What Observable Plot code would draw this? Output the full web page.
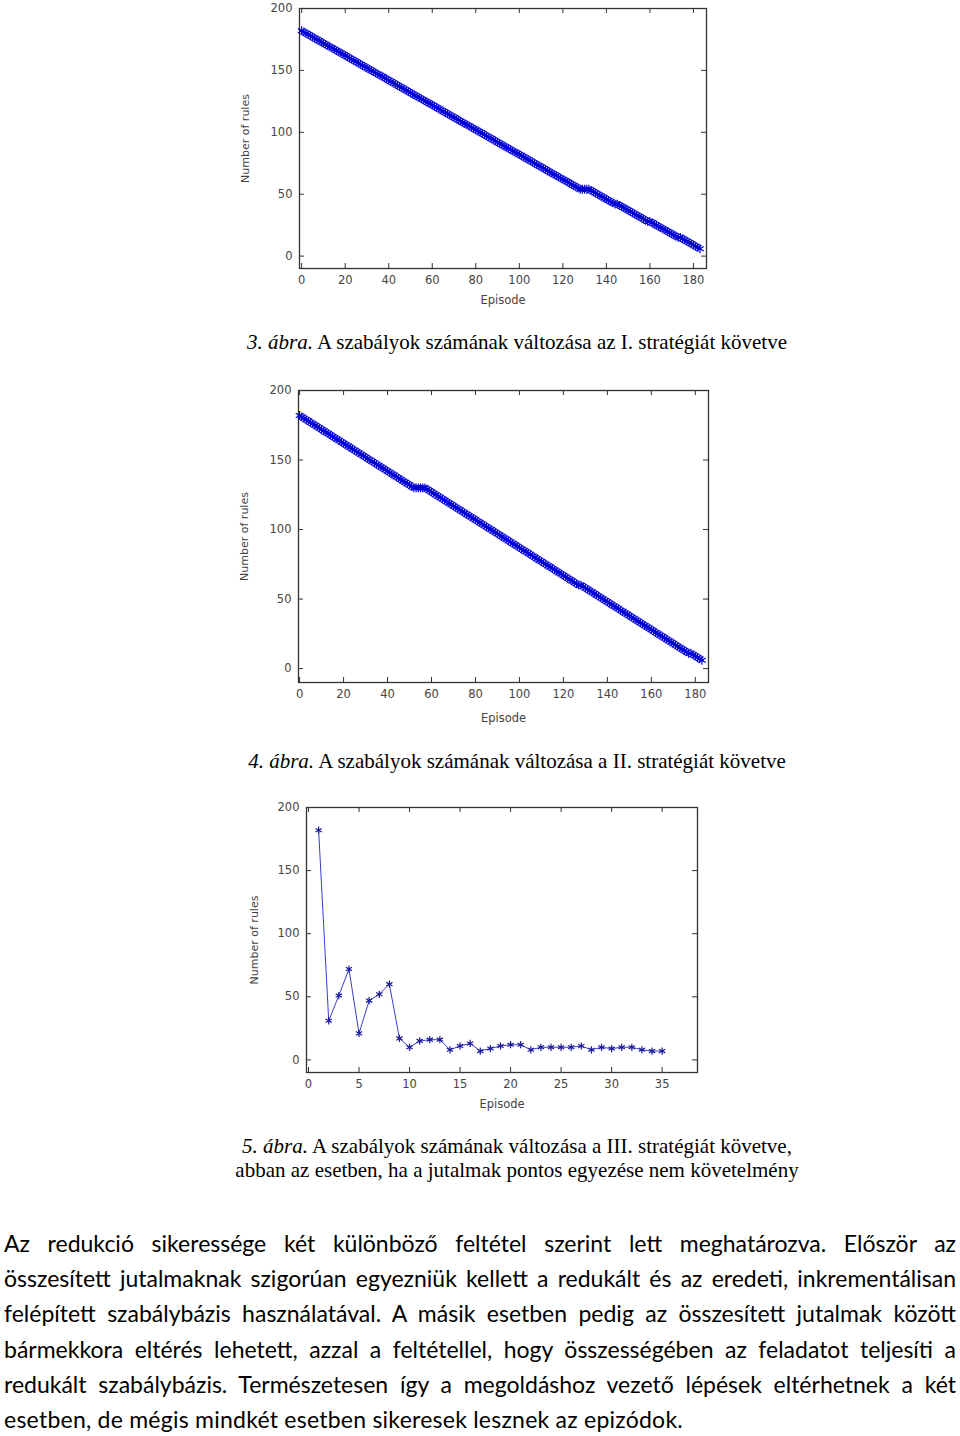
<!DOCTYPE html>
<html><head><meta charset="utf-8">
<script src="https://cdn.jsdelivr.net/npm/d3@7"></script>
<script src="https://cdn.jsdelivr.net/npm/@observablehq/plot@0.6"></script>
<style>
body{margin:0;background:#fff;}
#page{position:relative;width:960px;height:1436px;overflow:hidden;background:#fff;}
.chart{position:absolute;left:0;}
.chart svg{overflow:visible;}
.cap{position:absolute;left:0;width:1034px;text-align:center;font-family:"Liberation Serif","Times New Roman",serif;font-size:21px;line-height:24px;color:#000;}
.cap i{font-style:italic;}
#para{position:absolute;left:4px;top:1226px;width:952px;font-family:Lato,"Open Sans",sans-serif;font-size:23px;line-height:35.2px;color:#000;}
#para .ln{display:block;white-space:nowrap;}
#para .ln span{display:inline-block;white-space:pre;}
</style>
</head><body>
<div id="page">
  <div class="chart" id="c1" style="top:0px"></div>
  <div class="cap" style="top:330px"><i>3. ábra.</i> A szabályok számának változása az I. stratégiát követve</div>
  <div class="chart" id="c2" style="top:380px"></div>
  <div class="cap" style="top:749px"><i>4. ábra.</i> A szabályok számának változása a II. stratégiát követve</div>
  <div class="chart" id="c3" style="top:795px"></div>
  <div class="cap" style="top:1134px"><i>5. ábra.</i> A szabályok számának változása a III. stratégiát követve,<br>abban az esetben, ha a jutalmak pontos egyezése nem követelmény</div>
  <div id="para"></div>
</div>
<script>
// ---- Data ----
// Figure 3: number of rules per episode (episode = index, 0..183)
const rules1 = [182,181,180,179,178,177,176,175,174,173,172,171,170,169,168,167,166,165,164,163,162,161,160,159,158,157,156,155,154,153,152,151,150,149,148,147,146,145,144,143,142,141,140,139,138,137,136,135,134,133,132,131,130,129,128,127,126,125,124,123,122,121,120,119,118,117,116,115,114,113,112,111,110,109,108,107,106,105,104,103,102,101,100,99,98,97,96,95,94,93,92,91,90,89,88,87,86,85,84,83,82,81,80,79,78,77,76,75,74,73,72,71,70,69,68,67,66,65,64,63,62,61,60,59,58,57,56,55,54,
54,54,54,54,
53,52,51,50,49,48,47,46,45,44,43,42,42,
41,40,39,38,37,36,35,34,33,32,31,30,29,28,28,
27,26,25,24,23,22,21,20,19,18,17,16,15,15,
14,13,12,11,10,9,8,7,6];
// Figure 4: number of rules per episode (episode = index, 0..183)
const rules2 = [182,181,180,179,178,177,176,175,174,173,172,171,170,169,168,167,166,165,164,163,162,161,160,159,158,157,156,155,154,153,152,151,150,149,148,147,146,145,144,143,142,141,140,139,138,137,136,135,134,133,132,131,130,
130,130,130,130,130,
129,128,127,126,125,124,123,122,121,120,119,118,117,116,115,114,113,112,111,110,109,108,107,106,105,104,103,102,101,100,99,98,97,96,95,94,93,92,91,90,89,88,87,86,85,84,83,82,81,80,79,78,77,76,75,74,73,72,71,70,69,68,67,66,65,64,63,62,61,60,60,
59,58,57,56,55,54,53,52,51,50,49,48,47,46,45,44,43,42,41,40,39,38,37,36,35,34,33,32,31,30,29,28,27,26,25,24,23,22,21,20,19,18,17,16,15,14,13,12,11,11,
10,9,8,7,6];
// Figure 5
const episodes3 = [1,2,3,4,5,6,7,8,9,10,11,12,13,14,15,16,17,18,19,20,21,22,23,24,25,26,27,28,29,30,31,32,33,34,35];
const rules3 = [182,31,51,72,21,47,52,60,17,10,15,16,16,8,11,13,7,9,11,12,12,8,10,10,10,10,11,8,10,9,10,10,8,7,7];

const xTicksLong = [0,20,40,60,80,100,120,140,160,180];
const xTicksShort = [0,5,10,15,20,25,30,35];
const yTicks = [0,50,100,150,200];
const xLabel = "Episode";
const yLabel = "Number of rules";

const paraLines = [
  "Az redukció sikeressége két különböző feltétel szerint lett meghatározva. Először az",
  "összesített jutalmaknak szigorúan egyezniük kellett a redukált és az eredeti, inkrementálisan",
  "felépített szabálybázis használatával. A másik esetben pedig az összesített jutalmak között",
  "bármekkora eltérés lehetett, azzal a feltétellel, hogy összességében az feladatot teljesíti a",
  "redukált szabálybázis. Természetesen így a megoldáshoz vezető lépések eltérhetnek a két",
  "esetben, de mégis mindkét esetben sikeresek lesznek az epizódok."
];

// ---- Chart builder ----
function chart(opts) {
  const {data, xDomain, xTicks, height, mt, mb, ml, mr, lineColor, lineWidth, dotColor, dotR, ylabOff} = opts;
  const plotH = height - mt - mb;
  const plotW = 960 - ml - mr;
  const axisColor = "#333";
  return Plot.plot({
    width: 960, height,
    marginTop: mt, marginBottom: mb, marginLeft: ml, marginRight: mr,
    style: {fontFamily: "'DejaVu Sans', sans-serif", fontSize: "11.5px", color: "#444", background: "transparent"},
    x: {domain: xDomain},
    y: {domain: [-10, 200]},
    marks: [
      Plot.frame({stroke: axisColor, strokeWidth: 1.3}),
      Plot.tickX(xTicks, {x: d => d, insetTop: plotH - 5, stroke: axisColor}),
      Plot.tickX(xTicks, {x: d => d, insetBottom: plotH - 5, stroke: axisColor}),
      Plot.tickY(yTicks, {y: d => d, insetRight: plotW - 5, stroke: axisColor}),
      Plot.tickY(yTicks, {y: d => d, insetLeft: plotW - 5, stroke: axisColor}),
      Plot.line(data, {x: "episode", y: "rules", stroke: lineColor, strokeWidth: lineWidth}),
      Plot.dot(data, {x: "episode", y: "rules", symbol: "asterisk", r: dotR, stroke: dotColor, strokeWidth: 1.2}),
      Plot.axisX({ticks: xTicks, tickSize: 0, tickPadding: 7, label: null, fill: "#444"}),
      Plot.axisY({ticks: yTicks, tickSize: 0, tickPadding: 7, label: null, fill: "#444"}),
      Plot.text([xLabel], {text: d => d, frameAnchor: "bottom", dy: opts.xlabOff, fill: "#444", fontSize: 11.5}),
      Plot.text([yLabel], {text: d => d, frameAnchor: "left", textAnchor: "middle", dx: -ylabOff, rotate: -90, fill: "#444", fontSize: 11})
    ]
  });
}

const d1 = rules1.map((v, i) => ({episode: i, rules: v}));
const d2 = rules2.map((v, i) => ({episode: i, rules: v}));
const d3 = episodes3.map((e, i) => ({episode: e, rules: rules3[i]}));

document.getElementById("c1").append(chart({data: d1, xDomain: [-1, 186], xTicks: xTicksLong, height: 312, mt: 8, mb: 44, ml: 299, mr: 254,
  lineColor: "#0808c8", lineWidth: 2.6, dotColor: "#0000d8", dotR: 4.2, ylabOff: 54, xlabOff: 35}));
document.getElementById("c2").append(chart({data: d2, xDomain: [-0.5, 186], xTicks: xTicksLong, height: 345, mt: 10, mb: 43, ml: 298, mr: 252,
  lineColor: "#0808c8", lineWidth: 2.6, dotColor: "#0000d8", dotR: 4.2, ylabOff: 54, xlabOff: 39}));
document.getElementById("c3").append(chart({data: d3, xDomain: [-0.2, 38.5], xTicks: xTicksShort, height: 320, mt: 12, mb: 43, ml: 306, mr: 263,
  lineColor: "#3c3cd0", lineWidth: 1, dotColor: "#1a1a9a", dotR: 3.4, ylabOff: 52, xlabOff: 35}));

// ---- Paragraph ----
const para = document.getElementById("para");
const spans = paraLines.map((t, i) => {
  const ln = document.createElement("div");
  ln.className = "ln";
  const s = document.createElement("span");
  s.textContent = t;
  ln.append(s);
  para.append(ln);
  return s;
});
function fit() {
  spans.forEach((s, i) => {
    s.style.letterSpacing = "0px";
    s.style.wordSpacing = "0px";
    const w = s.getBoundingClientRect().width;
    const target = i === spans.length - 1 ? 679 : 952;
    const t = paraLines[i];
    const nSp = (t.match(/ /g) || []).length;
    if (w > target || i === spans.length - 1) {
      s.style.letterSpacing = ((target - w) / t.length) + "px";
    } else {
      s.style.wordSpacing = ((target - w) / nSp) + "px";
    }
  });
}
fit();
if (document.fonts && document.fonts.ready) document.fonts.ready.then(fit);
</script>
</body></html>
